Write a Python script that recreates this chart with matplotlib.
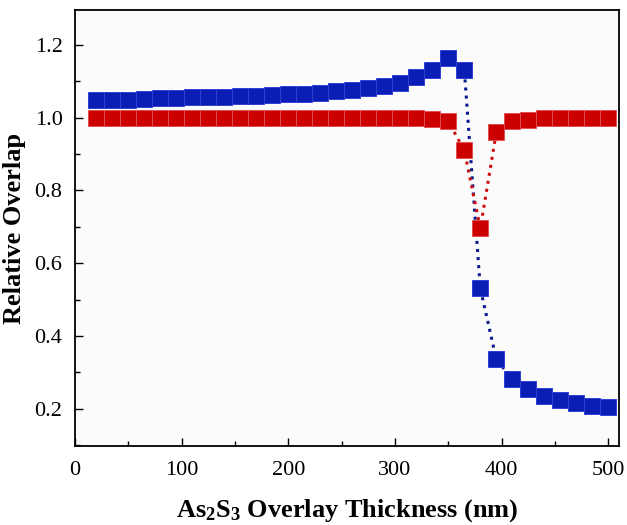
import matplotlib
matplotlib.use("Agg")
import matplotlib.pyplot as plt
from matplotlib.ticker import MultipleLocator, FormatStrFormatter

plt.rcParams['font.family'] = ['Liberation Serif', 'DejaVu Serif']
plt.rcParams['mathtext.default'] = 'regular'

thickness = [20, 35, 50, 65, 80, 95, 110, 125, 140, 155, 170, 185, 200, 215, 230,
             245, 260, 275, 290, 305, 320, 335, 350, 365, 380, 395, 410, 425, 440,
             455, 470, 485, 500]
blue_overlap = [1.048, 1.048, 1.050, 1.052, 1.053, 1.055, 1.056, 1.057, 1.058, 1.060,
                1.061, 1.063, 1.064, 1.066, 1.068, 1.072, 1.076, 1.081, 1.088, 1.096,
                1.111, 1.132, 1.164, 1.131, 0.531, 0.336, 0.282, 0.254, 0.236, 0.225,
                0.216, 0.209, 0.204]
red_overlap = [1.0, 1.0, 1.0, 1.0, 1.0, 1.0, 1.0, 1.0, 1.0, 1.0, 1.0, 1.0, 1.0, 1.0,
               1.0, 1.0, 1.0, 1.0, 1.0, 1.0, 1.0, 0.997, 0.990, 0.910, 0.696, 0.960,
               0.990, 0.995, 0.998, 1.0, 1.0, 1.0, 1.0]

fig = plt.figure(figsize=(6.27, 5.25), dpi=100)
ax = fig.add_axes([0.1196, 0.1505, 0.8676, 0.8305])
ax.set_facecolor('#fbfbfb')

ax.plot(thickness, blue_overlap, linestyle=':', linewidth=2.2, color='#0a1a8c',
        marker='s', markersize=11, markerfacecolor='#0a1db4',
        markeredgecolor='#3040d0', markeredgewidth=0.7, zorder=3)
ax.plot(thickness, red_overlap, linestyle=':', linewidth=2.2, color='#cc1010',
        marker='s', markersize=11, markerfacecolor='#cc0000',
        markeredgecolor='#e05050', markeredgewidth=0.7, zorder=3)

ax.set_xlim(0, 510)
ax.set_ylim(0.098, 1.296)
ax.xaxis.set_major_locator(MultipleLocator(100))
ax.xaxis.set_minor_locator(MultipleLocator(50))
ax.yaxis.set_major_locator(MultipleLocator(0.2))
ax.yaxis.set_minor_locator(MultipleLocator(0.1))
ax.yaxis.set_major_formatter(FormatStrFormatter('%.1f'))

ax.tick_params(which='both', direction='in', top=False, right=False)
ax.tick_params(which='major', length=6, width=1.0, labelsize=16, pad=9)
ax.tick_params(which='minor', length=3.5, width=1.0)
ax.tick_params(axis='x', which='major', pad=11)
for s in ax.spines.values():
    s.set_linewidth(1.3)

ax.set_xlabel('As$_2$S$_3$ Overlay Thickness (nm)', fontsize=19, fontweight='bold', labelpad=12)
ax.set_ylabel('Relative Overlap', fontsize=19, fontweight='bold', labelpad=6)

fig.savefig('out.png', dpi=100)
